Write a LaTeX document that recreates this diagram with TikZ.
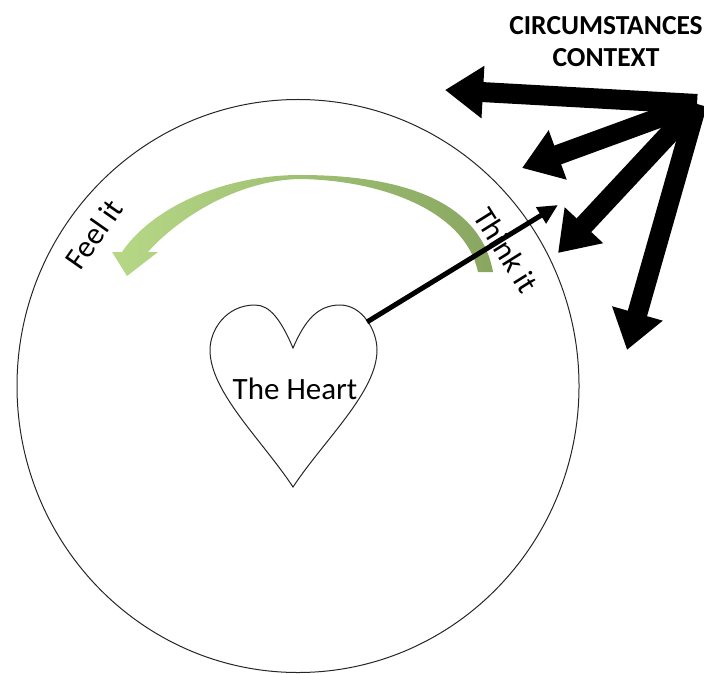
\documentclass[tikz,border=0pt]{standalone}
\usepackage{fontspec}
\setmainfont{Carlito}
\usetikzlibrary{calc, positioning}
\usetikzlibrary{arrows.meta}

\definecolor{feelgreen}{RGB}{182,216,134}
\definecolor{thinkgreen}{RGB}{136,166,96}

\begin{document}
\begin{tikzpicture}[x=0.5pt, y=-0.5pt,
  outline/.style={draw=black!85, line width=0.5pt},
  bigarrow/.style={line width=10pt, -{Triangle[length=19pt, width=25pt]}},
  word/.style={font=\fontsize{15.5}{18}\selectfont, inner sep=0pt}]
\useasboundingbox (0,0) rectangle (704,673);

\def\cx{298}
\def\cy{386}

\coordinate (C) at (\cx,\cy);

\draw[outline] (C) ellipse [x radius=281, y radius=286.5];

\draw[outline] (293,348) .. controls (281,320) and (270,305) .. (255,305)
  .. controls (226,305) and (210,330) .. (210,350)
  .. controls (210,392) and (262,440) .. (293,487)
  .. controls (324,440) and (377,392) .. (377,350)
  .. controls (377,330) and (362,305) .. (340,305)
  .. controls (318,305) and (305,320) .. (293,348) -- cycle;

\shade[left color=feelgreen, right color=thinkgreen]
  (493,272) .. controls (480,200) and (400,175) .. (300,175)
  .. controls (220,175) and (150,210) .. (122,252)
  -- (112,252) -- (127,276) -- (158,252) -- (148,252)
  .. controls (178,218) and (238,180) .. (300,179)
  .. controls (380,180) and (465,210) .. (478,272) -- cycle;

\node[word] (heart) at (295,389) {The Heart};
\node[word, rotate=55] (feel) at (94,234) {Feel it};
\node[word, rotate=-58] (think) at (506,250) {Think it};

\coordinate (lobe) at (367,322);
\coordinate (reach) at (558,205);
\draw[line width=2.5pt, -{Triangle[length=10pt, width=9pt]}] (lobe) -- (reach);

\coordinate (src) at (697,104);
\coordinate (far) at (445,90);
\coordinate (near) at (522,168);
\coordinate (edge) at (558,253);
\coordinate (out) at (627,350);

\draw[bigarrow] (src) -- (far);
\draw[bigarrow] (src) -- (near);
\draw[bigarrow] (src) -- (edge);
\draw[bigarrow] (src) -- (out);

\node[font=\bfseries\fontsize{13.75}{16}\selectfont, align=center, inner sep=0pt] (circ) at (606,42) {CIRCUMSTANCES\\CONTEXT};
\end{tikzpicture}
\end{document}
